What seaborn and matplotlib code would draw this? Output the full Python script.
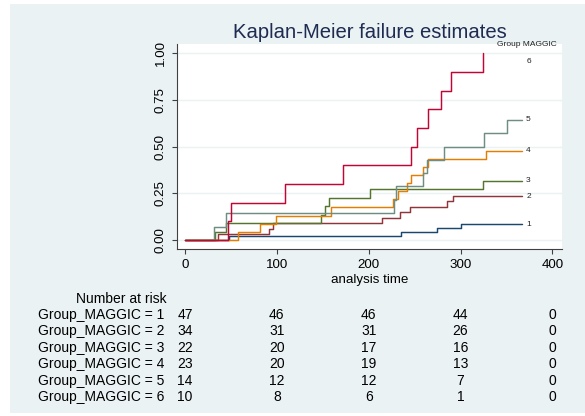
import matplotlib
matplotlib.use('Agg')
import matplotlib.pyplot as plt
import seaborn as sns
import pandas as pd
from matplotlib.patches import Rectangle
from matplotlib.transforms import blended_transform_factory

# ---- data ----
groups = ['1', '2', '3', '4', '5', '6']

g1_time = [0, 48, 235, 274, 301, 367]
g1_fail = [0, 0.021, 0.043, 0.064, 0.085, 0.085]

g2_time = [0, 36, 92, 96, 215, 234, 245, 285, 292, 367]
g2_fail = [0, 0.029, 0.059, 0.088, 0.118, 0.147, 0.176, 0.206, 0.235, 0.235]

g3_time = [0, 33, 45, 148, 152, 157, 201, 324, 367]
g3_fail = [0, 0.045, 0.091, 0.136, 0.182, 0.227, 0.273, 0.318, 0.318]

g4_time = [0, 58, 82, 99, 159, 226, 232, 242, 246, 259, 265, 328, 367]
g4_fail = [0, 0.043, 0.087, 0.130, 0.174, 0.217, 0.261, 0.304, 0.348, 0.391, 0.435, 0.478, 0.478]

g5_time = [0, 32, 45, 228, 230, 259, 264, 282, 326, 351, 367]
g5_fail = [0, 0.071, 0.143, 0.214, 0.286, 0.357, 0.429, 0.500, 0.571, 0.643, 0.643]

g6_time = [0, 47, 50, 109, 172, 246, 253, 265, 279, 290, 324]
g6_fail = [0, 0.1, 0.2, 0.3, 0.4, 0.5, 0.6, 0.7, 0.8, 0.9, 1.0]

risk_times = [0, 100, 200, 300, 400]
risk_g1 = [47, 46, 46, 44, 0]
risk_g2 = [34, 31, 31, 26, 0]
risk_g3 = [22, 20, 17, 16, 0]
risk_g4 = [23, 20, 19, 13, 0]
risk_g5 = [14, 12, 12, 7, 0]
risk_g6 = [10, 8, 6, 1, 0]

x_ticks = [0, 100, 200, 300, 400]
y_ticks = [0, 0.25, 0.5, 0.75, 1.0]
y_tick_labels = ['0.00', '0.25', '0.50', '0.75', '1.00']

colors = ['#1a476f', '#90353b', '#55752f', '#e37e00', '#6e8e84', '#c10534']

times = [g1_time, g2_time, g3_time, g4_time, g5_time, g6_time]
fails = [g1_fail, g2_fail, g3_fail, g4_fail, g5_fail, g6_fail]
risks = [risk_g1, risk_g2, risk_g3, risk_g4, risk_g5, risk_g6]

rows = []
for g, ts, fs in zip(groups, times, fails):
    for t, f in zip(ts, fs):
        rows.append({'time': t, 'failure': f, 'group': g})
df = pd.DataFrame(rows)

# ---- styling ----
sns.set_theme(style='white')
plt.rcParams['font.family'] = ['Liberation Sans', 'DejaVu Sans']

W, H = 585, 416
fig = plt.figure(figsize=(W / 100, H / 100), dpi=100)
fig.patch.set_facecolor('white')
bg = Rectangle((10 / W, 1 - 413 / H), 1 - 10 / W, (413 - 4) / H,
               transform=fig.transFigure, facecolor='#eaf2f3',
               edgecolor='none', zorder=-10)
fig.patches.append(bg)

ax_l, ax_r, ax_t, ax_b = 177, 562, 44, 248.5
ax = fig.add_axes([ax_l / W, 1 - ax_b / H, (ax_r - ax_l) / W, (ax_b - ax_t) / H])
ax.set_facecolor('white')
ax.set_zorder(1)

sns.lineplot(data=df, x='time', y='failure', hue='group', hue_order=groups,
             palette=colors, drawstyle='steps-post', estimator=None,
             legend=False, linewidth=1.05, ax=ax)

ax.set_xlim(-8.7, 410.5)
ax.set_ylim(-0.046, 1.049)
ax.set_xticks(x_ticks)
ax.set_xticklabels([str(v) for v in x_ticks])
ax.set_yticks(y_ticks)
ax.set_yticklabels(y_tick_labels, rotation=90, va='center')

ax.yaxis.grid(True, color='#eaf2f3', linewidth=1.0)
ax.xaxis.grid(False)
ax.set_axisbelow(True)

for s in ['top', 'right']:
    ax.spines[s].set_visible(False)
for s in ['left', 'bottom']:
    ax.spines[s].set_color('#404040')
    ax.spines[s].set_linewidth(0.8)

ax.tick_params(bottom=True, left=True, direction='out', length=3.6, width=0.8,
               color='#404040', labelsize=9.6, labelcolor='black', pad=3.6)

ax.set_ylabel('')
ax.set_xlabel('analysis time', fontsize=9.6, color='black')
ax.xaxis.set_label_coords(0.5, -(274.5 - ax_b) / (ax_b - ax_t))

# curve labels
fig.text(557 / W, 1 - 45 / H, 'Group MAGGIC', ha='right', va='center',
         fontsize=6, color='#222222', zorder=5)
for g, fs in zip(groups, fails):
    ax.text(374, min(fs[-1], 0.955), g, ha='center', va='center',
            fontsize=6, color='#222222')

# title
fig.text(369.5 / W, 1 - 32 / H, 'Kaplan-Meier failure estimates', ha='center',
         va='center', fontsize=14.6, color='#1e2c52', zorder=5)

# number at risk table
fig.text(121 / W, 1 - 299 / H, 'Number at risk', ha='center', va='center',
         fontsize=10, color='black', zorder=5)
trans = blended_transform_factory(ax.transData, fig.transFigure)
for i, (g, rk) in enumerate(zip(groups, risks)):
    yy = 1 - (315 + 16.4 * i) / H
    fig.text(164 / W, yy, f'Group_MAGGIC = {g}', ha='right', va='center',
             fontsize=10, color='black', zorder=5)
    for t, n in zip(risk_times, rk):
        ax.text(t, yy, str(n), transform=trans, ha='center', va='center',
                fontsize=10, color='black', clip_on=False)

fig.savefig('out.png', dpi=100, facecolor=fig.get_facecolor())
